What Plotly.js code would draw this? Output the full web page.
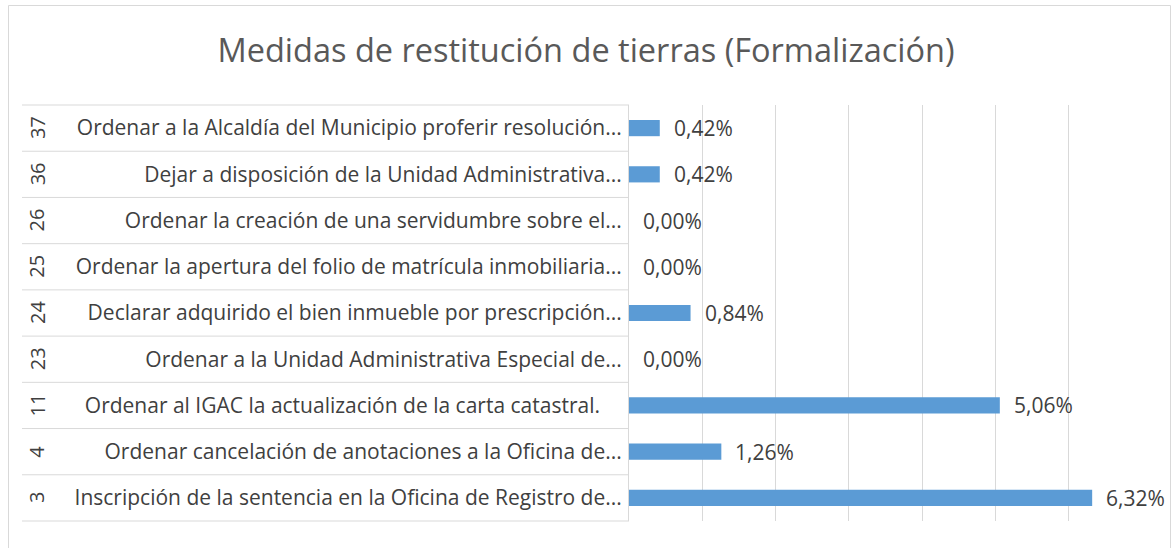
<!DOCTYPE html>
<html>
<head>
<meta charset="utf-8">
<script src="https://cdn.plot.ly/plotly-3.0.1.min.js"></script>
<style>
  html, body { margin: 0; padding: 0; background: #ffffff; }
  #chart { width: 1172px; height: 548px; }
</style>
</head>
<body>
<div id="chart"></div>
<script>
// Data (top to bottom as in the reference)
const codes = ["37", "36", "26", "25", "24", "23", "11", "4", "3"];
const labels = [
  "Ordenar a la Alcaldía del Municipio proferir resolución...",
  "Dejar a disposición de la Unidad Administrativa...",
  "Ordenar la creación de una servidumbre sobre el...",
  "Ordenar la apertura del folio de matrícula inmobiliaria...",
  "Declarar adquirido el bien inmueble por prescripción...",
  "Ordenar a la Unidad Administrativa Especial de...",
  "Ordenar al IGAC la actualización de la carta catastral.\u00a0\u00a0\u00a0\u00a0",
  "Ordenar cancelación de anotaciones a la Oficina de...",
  "Inscripción de la sentencia en la Oficina de Registro de..."
];
const values = [0.42, 0.42, 0.00, 0.00, 0.84, 0.00, 5.06, 1.26, 6.32];
const chartTitle = "Medidas de restitución de tierras (Formalización)";

// Layout geometry
const W = 1172, H = 548;
const M = { l: 629, r: 30, t: 105, b: 27 };
const plotW = W - M.l - M.r, plotH = H - M.t - M.b;
const pxX = px => (px - M.l) / plotW;
const pxY = py => (H - M.b - py) / plotH;

const FONT = "'Open Sans', sans-serif";
const TXT = "#404040";
const GRID = "#D9D9D9";
const FS = 21;

const fmt = v => v.toFixed(2).replace(".", ",") + "%";
const n = codes.length;

const trace = {
  type: "bar",
  orientation: "h",
  x: values,
  y: labels,
  marker: { color: "#5B9BD5", line: { width: 0 } },
  hoverinfo: "skip"
};

const annotations = [];
codes.forEach((c, i) => {
  // outer-level category code, rotated (y given as category index)
  annotations.push({
    xref: "paper", yref: "y",
    x: pxX(37), y: i,
    text: c, showarrow: false, textangle: -90,
    xanchor: "center", yanchor: "middle",
    font: { family: FONT, size: FS - 1, color: TXT }
  });
  // data label
  annotations.push({
    xref: "x", yref: "y",
    x: values[i], y: i,
    text: fmt(values[i]), showarrow: false,
    xanchor: "left", yanchor: "middle", xshift: 12,
    font: { family: FONT, size: FS, color: TXT }
  });
});

const shapes = [];
for (let k = 0; k <= n; k++) {
  shapes.push({
    type: "line", xref: "paper", yref: "paper",
    x0: pxX(22), x1: 0, y0: k / n, y1: k / n,
    line: { color: GRID, width: 1 }
  });
}
// chart outer border
shapes.push({
  type: "rect", xref: "paper", yref: "paper",
  x0: pxX(8.5), x1: pxX(1170.5), y0: pxY(560), y1: pxY(5.5),
  line: { color: GRID, width: 1 }, fillcolor: "rgba(0,0,0,0)"
});

const layout = {
  width: W, height: H,
  margin: M,
  paper_bgcolor: "#ffffff",
  plot_bgcolor: "#ffffff",
  showlegend: false,
  bargap: 0.65,
  title: {
    text: chartTitle,
    font: { family: FONT, size: 32.5, color: "#595959" },
    x: 0.5, xanchor: "center",
    y: 1 - 51 / H, yanchor: "middle"
  },
  xaxis: {
    range: [0, 7], dtick: 1, tick0: 0,
    showgrid: true, gridcolor: GRID, gridwidth: 1,
    showticklabels: false, zeroline: false, showline: false,
    fixedrange: true
  },
  yaxis: {
    type: "category",
    range: [n - 0.5, -0.5],
    tickfont: { family: FONT, size: FS, color: TXT },
    ticks: "", ticklabelstandoff: 2,
    showgrid: false, zeroline: false,
    showline: true, linecolor: GRID, linewidth: 1,
    fixedrange: true
  },
  annotations: annotations,
  shapes: shapes
};

Plotly.newPlot("chart", [trace], layout, { displayModeBar: false, staticPlot: true });
</script>
</body>
</html>
